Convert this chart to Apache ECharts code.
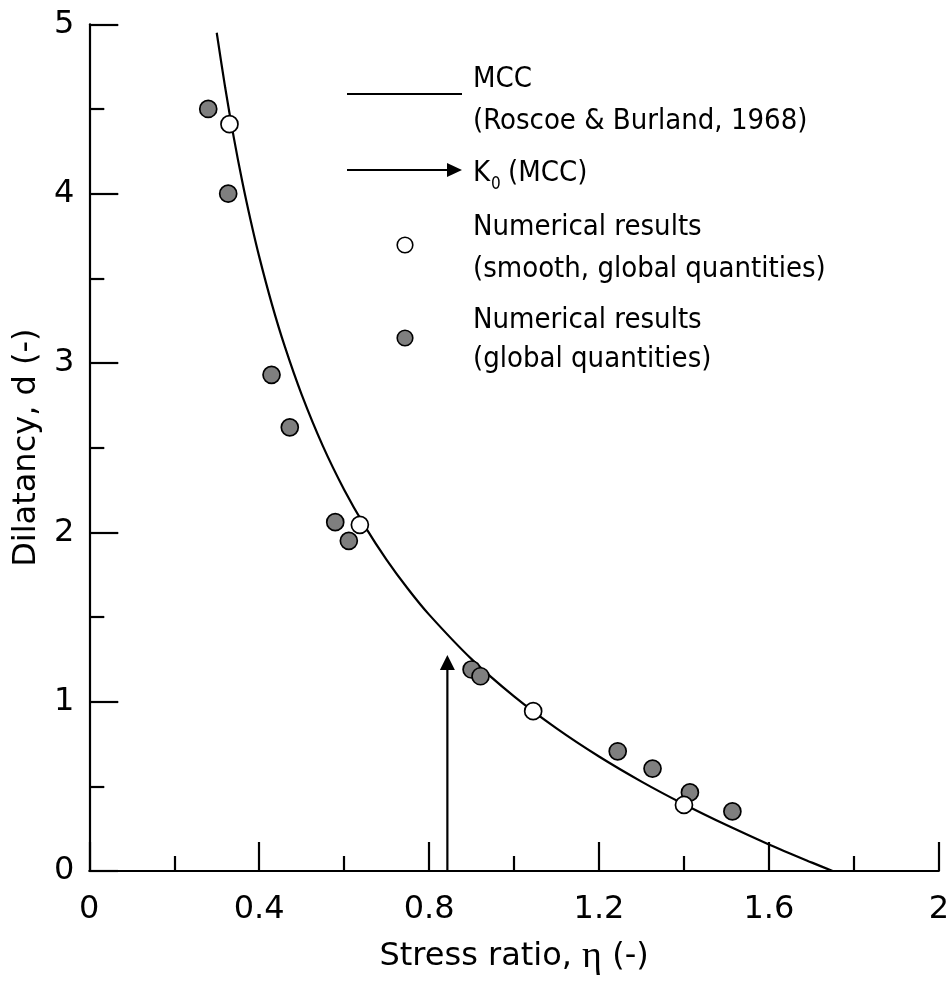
<!DOCTYPE html>
<html><head><meta charset="utf-8">
<script src="https://cdn.jsdelivr.net/npm/echarts@6/dist/echarts.min.js"></script>
<style>html,body{margin:0;padding:0;background:#fff}#c{width:952px;height:981px}</style>
</head><body><div id="c"></div>
<script>
// MCC curve (Roscoe & Burland, 1968)
const mccEta = [0.30,0.32,0.34,0.36,0.38,0.40,0.43,0.46,0.50,0.55,0.60,0.65,0.70,0.75,0.80,0.90,1.00,1.10,1.20,1.30,1.40,1.50,1.60,1.70,1.75];
const mccD   = [4.95,4.625,4.334,4.073,3.840,3.628,3.346,3.099,2.813,2.509,2.252,2.031,1.838,1.667,1.514,1.251,1.031,0.842,0.676,0.528,0.394,0.271,0.157,0.051,0];
// Numerical results (smooth, global quantities) - white
const whiteEta = [0.330,0.637,1.045,1.400];
const whiteD   = [4.41,2.044,0.944,0.390];
// Numerical results (global quantities) - gray
const grayEta = [0.280,0.327,0.429,0.472,0.579,0.611,0.900,0.921,1.244,1.326,1.414,1.514];
const grayD   = [4.50,4.00,2.93,2.62,2.06,1.95,1.19,1.150,0.707,0.605,0.464,0.352];
// K0 (MCC) arrow
const k0Eta = 0.843;
const k0D = 1.276;
// axes
const xMin = 0, xMax = 2, xStep = 0.4;
const yMin = 0, yMax = 5, yStep = 1;
const xTitle = 'Stress ratio, ';
const xTitleSym = 'η';
const xTitleEnd = ' (-)';
const yTitle = 'Dilatancy, d (-)';
const legendText = ['MCC','(Roscoe & Burland, 1968)','K','0','(MCC)','Numerical results','(smooth, global quantities)','Numerical results','(global quantities)'];

const FONT = 'DejaVu Sans';
const LFONT = "'DejaVu Sans Condensed', 'DejaVu Sans'";
const chart = echarts.init(document.getElementById('c'), null, {renderer:'canvas'});

const axisCommon = {
  type:'value',
  nameLocation:'middle',
  axisLine:{onZero:false, lineStyle:{color:'#000', width:2.2}},
  axisTick:{inside:true, length:29, lineStyle:{color:'#000', width:2.2}},
  minorTick:{show:true, splitNumber:2, length:15, lineStyle:{color:'#000', width:2.2}},
  splitLine:{show:false},
  minorSplitLine:{show:false},
  axisLabel:{fontFamily:FONT, fontSize:32, color:'#000'}
};

const option = {
  animation:false,
  backgroundColor:'#fff',
  grid:{left:89.3, right:13, top:24.3, bottom:105.3},
  xAxis: Object.assign({}, axisCommon, {
    min:xMin, max:xMax, interval:xStep,
    name:'{a|' + xTitle + '}{e|' + xTitleSym + '}{a|' + xTitleEnd + '}',
    nameGap:67,
    nameTextStyle:{rich:{
      a:{fontFamily:FONT, fontSize:32, color:'#000'},
      e:{fontFamily:'Liberation Serif', fontSize:38, color:'#000'}
    }},
    axisLabel:{fontFamily:FONT, fontSize:32, color:'#000', margin:23}
  }),
  yAxis: Object.assign({}, axisCommon, {
    min:yMin, max:yMax, interval:yStep,
    name:yTitle, nameGap:40,
    nameTextStyle:{fontFamily:FONT, fontSize:32, color:'#000'},
    axisLabel:{fontFamily:FONT, fontSize:32, color:'#000', margin:15}
  }),
  series:[
    {type:'line', data: mccEta.map((e,i)=>[e, mccD[i]]), showSymbol:false, smooth:0.3,
     lineStyle:{color:'#000', width:2.2}, z:2, silent:true},
    {type:'scatter', data: grayEta.map((e,i)=>[e, grayD[i]]), symbol:'circle', symbolSize:17,
     itemStyle:{color:'#7f7f7f', borderColor:'#000', borderWidth:1.7, opacity:1}, z:3, silent:true},
    {type:'scatter', data: whiteEta.map((e,i)=>[e, whiteD[i]]), symbol:'circle', symbolSize:17,
     itemStyle:{color:'#fff', borderColor:'#000', borderWidth:1.7, opacity:1}, z:4, silent:true}
  ]
};
chart.setOption(option);

// K0 arrow placed through the chart's own scales
const p0 = chart.convertToPixel({gridIndex:0}, [k0Eta, 0]);
const p1 = chart.convertToPixel({gridIndex:0}, [k0Eta, k0D]);
const ah = 15, aw = 7.5;

const lt = (txt, x, y, size, fam) => ({type:'text', x:x, y:y, style:{text:txt, font: size + 'px ' + (fam||LFONT), fill:'#000', textVerticalAlign:'middle', verticalAlign:'middle'}});

chart.setOption({graphic:[
  {type:'line', shape:{x1:p0[0], y1:p0[1], x2:p1[0], y2:p1[1]+ah-1}, style:{stroke:'#000', lineWidth:2.2}, z:10},
  {type:'polygon', shape:{points:[[p1[0]-aw,p1[1]+ah],[p1[0],p1[1]],[p1[0]+aw,p1[1]+ah]]}, style:{fill:'#000'}, z:10},
  // legend
  {type:'line', shape:{x1:347, y1:94, x2:462, y2:94}, style:{stroke:'#000', lineWidth:2.2}},
  lt(legendText[0], 473, 79.5, 29),
  lt(legendText[1], 473, 121, 29),
  {type:'line', shape:{x1:347, y1:170, x2:450, y2:170}, style:{stroke:'#000', lineWidth:2.2}},
  {type:'polygon', shape:{points:[[447,163],[462,170],[447,177]]}, style:{fill:'#000'}},
  lt(legendText[2], 473, 173, 29),
  lt(legendText[3], 491, 185, 17),
  lt(legendText[4], 508, 173, 29),
  {type:'circle', shape:{cx:405, cy:245, r:7.8}, style:{fill:'#fff', stroke:'#000', lineWidth:1.6}},
  lt(legendText[5], 473, 227, 29),
  lt(legendText[6], 473, 269, 29),
  {type:'circle', shape:{cx:405, cy:338, r:7.8}, style:{fill:'#7f7f7f', stroke:'#000', lineWidth:1.6}},
  lt(legendText[7], 473, 320.5, 29),
  lt(legendText[8], 473, 359, 29)
]});
</script>
</body></html>
